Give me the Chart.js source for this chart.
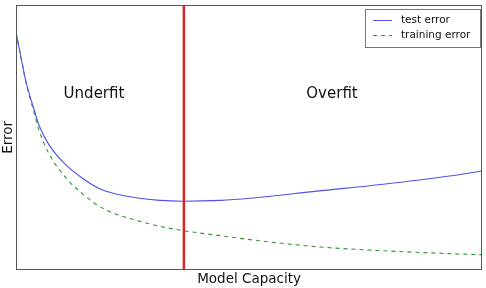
<!DOCTYPE html>
<html>
<head>
<meta charset="utf-8">
<script src="https://cdn.jsdelivr.net/npm/chart.js@4/dist/chart.umd.min.js"></script>
<style>
html,body{margin:0;padding:0;background:#fff;}
#wrap{width:486px;height:288px;position:relative;}
</style>
</head>
<body>
<div id="wrap"><canvas id="c"></canvas></div>
<script>
const capacity = [0, 1.07, 2.15, 3.65, 4.94, 7.08, 10.73, 14.38, 17.81, 21.46, 25.4, 30.9, 35.8, 43.8, 50.2, 64.6, 78.8, 93.1, 100];
const testError = [0.894, 0.798, 0.707, 0.616, 0.544, 0.471, 0.395, 0.344, 0.307, 0.286, 0.273, 0.262, 0.259, 0.262, 0.270, 0.297, 0.323, 0.354, 0.373];
const trainingError = [0.894, 0.798, 0.703, 0.605, 0.525, 0.437, 0.346, 0.285, 0.240, 0.210, 0.189, 0.164, 0.148, 0.129, 0.114, 0.087, 0.072, 0.061, 0.057];
const optimalCapacity = 36;
const seriesNames = ['test error', 'training error'];
const regionNames = ['Underfit', 'Overfit'];

const FONT = "'DejaVu Sans', sans-serif";
const BLUE = 'rgb(80,80,235)';
const GREEN = 'rgb(50,150,50)';
const RED = 'rgb(218,38,38)';

const toPts = (xs, ys) => xs.map((x, i) => ({x: x, y: ys[i]}));

const decor = {
  id: 'decor',
  afterDatasetsDraw(chart) {
    const ctx = chart.ctx, a = chart.chartArea;
    const xs = chart.scales.x, ys = chart.scales.y;
    ctx.save();
    ctx.strokeStyle = '#555';
    ctx.lineWidth = 1;
    ctx.strokeRect(Math.round(a.left) + 0.5, Math.round(a.top) + 0.5, Math.round(a.right - a.left) - 1, Math.round(a.bottom - a.top) - 1);
    ctx.fillStyle = '#111';
    ctx.font = '15px ' + FONT;
    ctx.textAlign = 'center';
    ctx.textBaseline = 'alphabetic';
    const ly = ys.getPixelForValue(0.65);
    ctx.fillText(regionNames[0], xs.getPixelForValue(16.7), ly);
    ctx.fillText(regionNames[1], xs.getPixelForValue(67.8), ly);
    const bx = 365.5, by = 9.5, bw = 115, bh = 38;
    ctx.fillStyle = '#fff';
    ctx.fillRect(bx, by, bw, bh);
    ctx.strokeStyle = '#777';
    ctx.strokeRect(bx, by, bw, bh);
    ctx.font = '10.5px ' + FONT;
    ctx.textAlign = 'left';
    ctx.textBaseline = 'middle';
    ctx.fillStyle = '#111';
    const rows = [{c: BLUE, d: [], y: 20.5}, {c: GREEN, d: [4, 4], y: 35.5}];
    rows.forEach((r, i) => {
      ctx.strokeStyle = r.c;
      ctx.lineWidth = 1;
      ctx.setLineDash(r.d);
      ctx.beginPath();
      ctx.moveTo(373, r.y);
      ctx.lineTo(392, r.y);
      ctx.stroke();
      ctx.setLineDash([]);
      ctx.fillText(seriesNames[i], 401, r.y);
    });
    ctx.restore();
  }
};

new Chart(document.getElementById('c'), {
  type: 'line',
  data: {
    datasets: [
      {label: 'boundary', data: [{x: optimalCapacity, y: 0}, {x: optimalCapacity, y: 1}], borderColor: RED, borderWidth: 2.5, pointRadius: 0, order: 0},
      {label: seriesNames[0], data: toPts(capacity, testError), borderColor: BLUE, borderWidth: 1.1, pointRadius: 0, cubicInterpolationMode: 'monotone', order: 1},
      {label: seriesNames[1], data: toPts(capacity, trainingError), borderColor: GREEN, borderWidth: 1.1, borderDash: [4, 4], pointRadius: 0, cubicInterpolationMode: 'monotone', order: 2}
    ]
  },
  options: {
    responsive: true,
    maintainAspectRatio: false,
    animation: false,
    layout: {padding: {top: 5, right: 4, left: 0, bottom: 0}},
    plugins: {legend: {display: false}, tooltip: {enabled: false}},
    scales: {
      x: {
        type: 'linear', min: 0, max: 100,
        ticks: {display: false},
        grid: {display: false, drawTicks: false},
        border: {display: false},
        title: {display: true, text: 'Model Capacity', color: '#111', font: {family: FONT, size: 13.5}, padding: {top: 2, bottom: 0}}
      },
      y: {
        type: 'linear', min: 0, max: 1,
        ticks: {display: false},
        grid: {display: false, drawTicks: false},
        border: {display: false},
        title: {display: true, text: 'Error', color: '#111', font: {family: FONT, size: 13.5}, padding: {top: 0, bottom: 0}}
      }
    }
  },
  plugins: [decor]
});
</script>
</body>
</html>
